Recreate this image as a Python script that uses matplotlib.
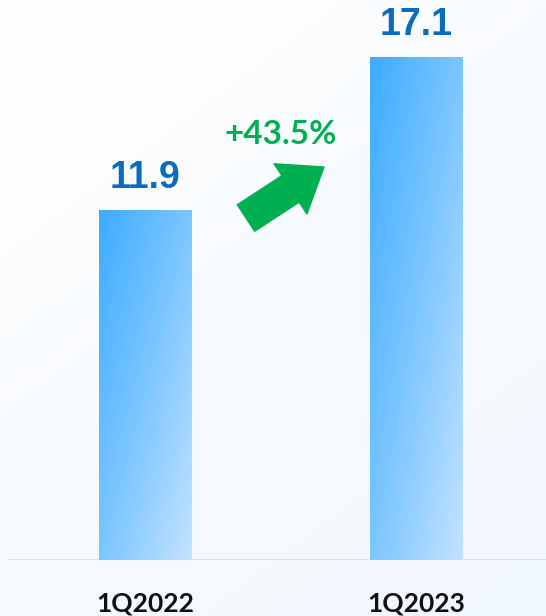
import numpy as np
import matplotlib
matplotlib.use("Agg")
import matplotlib.pyplot as plt
from matplotlib.colors import LinearSegmentedColormap

# data
quarters = ["1Q2022", "1Q2023"]
values = [11.9, 17.1]
growth_label = "+43.5%"

fig = plt.figure(figsize=(5.46, 6.16), dpi=100)

# light background gradient
bg = fig.add_axes([0, 0, 1, 1], zorder=-10)
bg_cmap = LinearSegmentedColormap.from_list("bg", ["#ffffff", "#f0f7fd"])
yy, xx = np.mgrid[0:1:200j, 0:1:200j]
bg.imshow(0.4 * xx + 0.6 * yy, cmap=bg_cmap, aspect="auto", extent=(0, 1, 0, 1))
bg.axis("off")

ax = fig.add_axes([0, 56 / 616, 1, 560 / 616])
ax.patch.set_alpha(0)
x = np.arange(len(quarters))
bars = ax.bar(x, values, width=0.34, color="none", edgecolor="none")

# bar fill: diagonal gradient, clipped to each bar
bar_cmap = LinearSegmentedColormap.from_list("bar", ["#3dacff", "#7cc6ff", "#c2e2ff"])
for b in bars:
    x0, w, h = b.get_x(), b.get_width(), b.get_height()
    v, u = np.mgrid[0:1:300j, 0:1:60j]
    grad = 0.5 * u + 0.5 * v
    im = ax.imshow(grad, cmap=bar_cmap, vmin=0, vmax=1, aspect="auto",
                   extent=(x0, x0 + w, 0, h), origin="upper", zorder=2)
    im.set_clip_path(b)

for xi, val in zip(x, values):
    ax.text(xi, val + 0.45, f"{val}", ha="center", va="bottom",
            fontsize=27, fontweight="bold", color="#0b6cbc",
            family=["Liberation Sans", "DejaVu Sans"], zorder=3)

ax.set_xlim(-0.535, 1.48)
ax.set_ylim(0, 19.02)
ax.axhline(0, xmin=8 / 546, xmax=1, color="#cae4fa", lw=2, zorder=1)

ax.set_xticks(x)
ax.set_xticklabels(quarters, fontsize=19, fontweight="bold", color="#111111", family="Lato")
ax.tick_params(axis="x", length=0, pad=23)
ax.set_yticks([])
for s in ax.spines.values():
    s.set_visible(False)

# growth arrow and label
ax.text(281 / 546, 1 - 134 / 560, growth_label, transform=ax.transAxes,
        ha="center", va="center", fontsize=24, fontweight="bold",
        color="#00b050", family="Lato")
ax.annotate("", xy=(324 / 546, 1 - 167 / 560), xytext=(246 / 546, 1 - 218 / 560),
            xycoords="axes fraction", textcoords="axes fraction",
            arrowprops=dict(arrowstyle="simple,head_length=1.2,head_width=1.8,tail_width=0.95",
                            color="#00b050", shrinkA=0, shrinkB=0, mutation_scale=24))

fig.savefig("out.png", dpi=100)
